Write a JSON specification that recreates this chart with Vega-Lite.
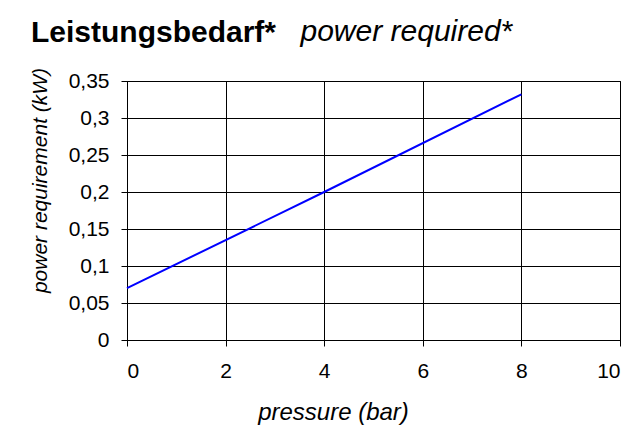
{
  "$schema": "https://vega.github.io/schema/vega-lite/v6.json",
  "width": 493,
  "height": 259,
  "autosize": {"type": "none"},
  "padding": {"left": 127, "top": 81, "right": 24, "bottom": 95},
  "background": "white",
  "title": {
    "text": "Leistungsbedarf*",
    "anchor": "start",
    "frame": "group",
    "dx": -96,
    "dy": 46,
    "offset": 14,
    "font": "Liberation Sans",
    "fontSize": 30,
    "fontWeight": "bold",
    "color": "black"
  },
  "data": {
    "values": [
      {"pressure": 0, "power": 0.07},
      {"pressure": 4, "power": 0.2},
      {"pressure": 8, "power": 0.332}
    ]
  },
  "layer": [
    {
      "mark": {"type": "line", "color": "#0000ff", "strokeWidth": 2},
      "encoding": {
        "x": {
          "field": "pressure",
          "type": "quantitative",
          "scale": {"domain": [0, 10], "nice": false, "zero": true},
          "axis": {
            "orient": "bottom",
            "title": "pressure (bar)",
            "values": [0, 2, 4, 6, 8, 10],
            "format": "d",
            "titleX": 206,
            "titleY": 72,
            "titleBaseline": "middle",
            "titleFontSize": 24
          }
        },
        "y": {
          "field": "power",
          "type": "quantitative",
          "scale": {"domain": [0, 0.35], "nice": false},
          "axis": {
            "title": "power requirement (kW)",
            "values": [0, 0.05, 0.1, 0.15, 0.2, 0.25, 0.3, 0.35],
            "format": ".2~f",
            "titleX": -87,
            "titleY": 99,
            "titleBaseline": "middle"
          }
        }
      }
    },
    {
      "mark": {"type": "line", "strokeOpacity": 0},
      "encoding": {
        "x": {
          "field": "pressure",
          "type": "quantitative",
          "scale": {"domain": [0, 10], "nice": false, "zero": true},
          "axis": {
            "orient": "top",
            "title": "power required*",
            "labels": false,
            "ticks": false,
            "domain": false,
            "grid": false,
            "titleX": 173,
            "titleY": -41,
            "titleAlign": "left",
            "titleBaseline": "alphabetic",
            "titleFontSize": 30
          }
        }
      }
    }
  ],
  "resolve": {"axis": {"x": "independent"}},
  "config": {
    "locale": {
      "number": {"decimal": ",", "thousands": ".", "grouping": [3], "currency": ["", " €"]}
    },
    "view": {"stroke": "black", "strokeWidth": 1},
    "axis": {
      "domainColor": "black",
      "domainWidth": 1,
      "tickColor": "black",
      "tickSize": 6,
      "tickWidth": 1,
      "gridColor": "black",
      "gridOpacity": 1,
      "gridWidth": 1,
      "labelFont": "Liberation Sans",
      "labelFontSize": 21,
      "labelColor": "black",
      "titleFont": "Liberation Sans",
      "titleFontSize": 21,
      "titleFontStyle": "italic",
      "titleFontWeight": "normal",
      "titleColor": "black"
    },
    "axisY": {"labelPadding": 12},
    "axisX": {"labelPadding": 14}
  }
}
